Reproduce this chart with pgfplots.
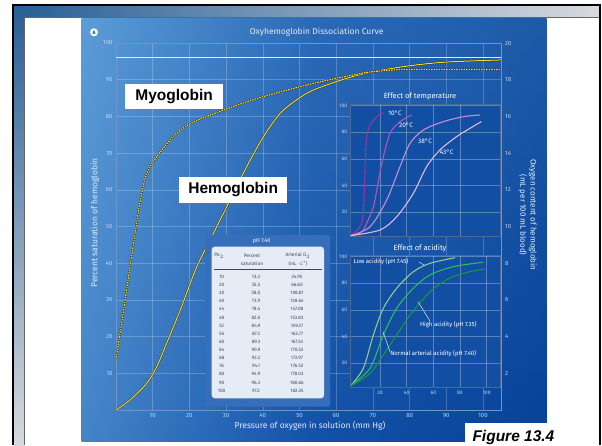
\documentclass[border=0pt]{standalone}
\usepackage{pgfplots}
\pgfplotsset{compat=1.18}
\usepackage{fontspec}
\setmainfont{Fira Sans}
\newfontfamily\labfont{Liberation Sans}
\definecolor{panelL}{RGB}{85,150,212}
\definecolor{panelM}{RGB}{22,85,170}
\definecolor{panelR}{RGB}{5,65,150}
\definecolor{tickc}{RGB}{195,212,235}
\definecolor{framec}{RGB}{110,150,205}
\definecolor{yel}{RGB}{242,222,40}
\definecolor{insetbg}{RGB}{18,78,162}
\definecolor{tA}{RGB}{150,55,165}
\definecolor{tB}{RGB}{180,85,185}
\definecolor{tC}{RGB}{205,140,215}
\definecolor{tD}{RGB}{225,185,225}
\definecolor{lowac}{RGB}{140,205,140}
\definecolor{normac}{RGB}{40,190,90}
\definecolor{highac}{RGB}{25,150,65}
\definecolor{tabbg}{RGB}{230,236,245}
\definecolor{tabout}{RGB}{55,110,185}
\definecolor{tabtxt}{RGB}{60,70,90}
\definecolor{stripb}{RGB}{40,95,150}
\definecolor{stripg}{RGB}{215,218,222}
\newcommand\tk{\fontsize{6}{6}\selectfont}
\newcommand\tks{\fontsize{5}{5}\selectfont}
\begin{document}
\begin{tikzpicture}
\useasboundingbox (0,0) rectangle (602pt,445pt);
\fill[white] (0,0) rectangle (602pt,445pt);
% outer frame
\shade[left color=stripb, right color=stripg] (14pt,428pt) rectangle (599pt,439pt);
\shade[top color=stripb, bottom color=stripg] (14pt,0pt) rectangle (24pt,439pt);
\draw[black, line width=2pt] (13pt,0pt) -- (13pt,440pt) -- (600pt,440pt) -- (600pt,0pt);
\draw[black!60, line width=0.8pt] (24pt,0pt) -- (24pt,428pt) -- (599pt,428pt);
% blue panel
\shade[left color=panelL, right color=panelR, middle color=panelM] (81.7pt,4pt) rectangle (546.7pt,426.7pt);
\shade[top color={rgb,255:red,120;green,180;blue,230}, bottom color={rgb,255:red,10;green,70;blue,160}, opacity=0.22] (81.7pt,4pt) rectangle (546.7pt,426.7pt);
% main axis
\begin{axis}[
  at={(116pt,35pt)}, anchor=south west,
  width=385.7pt, height=367pt, scale only axis,
  xmin=0, xmax=105.1, ymin=0, ymax=100,
  xtick={10,20,...,100}, ytick={10,20,...,100},
  grid=major, grid style={draw=white, opacity=0.22, line width=0.5pt},
  axis line style={draw=framec, line width=0.7pt},
  major tick length=0pt,
  tick label style={font=\tk, text=tickc},
  /pgf/number format/assume math mode=true,
]
\addplot[draw={rgb,255:red,228;green,235;blue,245}, line width=1.4pt] coordinates {(0,96) (105.1,96)};
% hemoglobin
\addplot[black!85, line width=1.7pt, smooth, tension=0.5] coordinates {
(0,0) (3.8,2.7) (8.4,7.3) (11.1,11.8) (13.8,18.2) (17.5,27.2) (22,39) (26.5,48) (31.1,57.2) (35.6,66.3) (40.2,74.5) (44.7,80.8) (49.2,84.5) (53.8,87.2) (62.9,90.4) (70.2,92.2) (80,93.8) (90,94.8) (105,95.4)};
\addplot[yel, line width=1.0pt, smooth, tension=0.5] coordinates {
(0,0) (3.8,2.7) (8.4,7.3) (11.1,11.8) (13.8,18.2) (17.5,27.2) (22,39) (26.5,48) (31.1,57.2) (35.6,66.3) (40.2,74.5) (44.7,80.8) (49.2,84.5) (53.8,87.2) (62.9,90.4) (70.2,92.2) (80,93.8) (90,94.8) (105,95.4)};
% myoglobin
\addplot[black!85, line width=1.7pt, smooth, tension=0.5] coordinates {
(0,13.6) (1.1,20.9) (2.5,30) (3.8,39) (5.2,48) (6.6,57) (8.4,64.5) (11.1,69) (15.6,74.5) (20.2,78) (29.2,81.7) (40.2,85.4) (53.8,89) (67.2,91.8) (75,92.6) (80,92.8) (105,92.8)};
\addplot[yel, line width=1.2pt, dash pattern=on 1.6pt off 0.9pt, smooth, tension=0.5] coordinates {
(0,13.6) (1.1,20.9) (2.5,30) (3.8,39) (5.2,48) (6.6,57) (8.4,64.5) (11.1,69) (15.6,74.5) (20.2,78) (29.2,81.7) (40.2,85.4) (53.8,89) (67.2,91.8) (75,92.6) (80,92.8) (105,92.8)};
\end{axis}
% right axis
\begin{axis}[
  at={(116pt,35pt)}, anchor=south west,
  width=385.7pt, height=367pt, scale only axis,
  xmin=0, xmax=105.1, ymin=0, ymax=20,
  axis x line=none, axis y line*=right,
  ytick={2,4,...,20},
  axis line style={draw=framec, line width=0.7pt},
  major tick length=0pt,
  tick label style={font=\tk, text=tickc},
  /pgf/number format/assume math mode=true,
]
\addplot[draw=none] coordinates {(0,0)};
\end{axis}
% temperature inset
\begin{axis}[
  at={(350.7pt,208.7pt)}, anchor=south west,
  width=149.3pt, height=132.4pt, scale only axis,
  xmin=-2, xmax=110, ymin=2, ymax=101.3,
  axis background/.style={fill=insetbg},
  xtick={20,40,60,80}, ytick={20,40,60,80,100}, xticklabels={},
  grid=major, grid style={draw=white, opacity=0.3, line width=0.5pt},
  axis line style={draw=framec!70!black, line width=0.6pt},
  major tick length=0pt,
  tick label style={font=\tks, text=tickc},
  /pgf/number format/assume math mode=true,
]
\addplot[tA, line width=1.1pt, smooth, tension=0.5] coordinates {(-2,2.5) (6.3,11.8) (8.3,36.8) (9,61.7) (10,76.7) (12.5,85.5) (17.6,91.7) (22.5,94.7)};
\addplot[tB, line width=1.1pt, smooth, tension=0.5] coordinates {(-2,2.5) (6,5) (10,11.8) (15,24) (17.6,36.8) (20,50) (22.5,61.7) (27.5,79.3) (35,88) (43.8,93)};
\addplot[tC, line width=1.1pt, smooth, tension=0.5] coordinates {(-2,2.5) (12.5,9.2) (25,29.2) (35,54.3) (42.5,71.7) (52.5,81.7) (67.5,88) (82.5,91.7) (95,93)};
\addplot[tD, line width=1.1pt, smooth, tension=0.5] coordinates {(-2,2.5) (20,6.75) (32.5,16.7) (45,34.2) (55,54.3) (65,66.8) (77.5,76.8) (87.5,83) (96,88)};
\end{axis}
% acidity inset
\begin{axis}[
  at={(350.7pt,57.7pt)}, anchor=south west,
  width=149.3pt, height=132.4pt, scale only axis,
  xmin=-2, xmax=110, ymin=2, ymax=101.3,
  axis background/.style={fill=insetbg},
  xtick={20,40,60,80,100}, ytick={20,40,60,80,100},
  grid=major, grid style={draw=white, opacity=0.3, line width=0.5pt},
  axis line style={draw=framec!70!black, line width=0.6pt},
  major tick length=0pt,
  tick label style={font=\tks, text=tickc},
  /pgf/number format/assume math mode=true,
]
\addplot[lowac, line width=1.1pt, smooth, tension=0.5] coordinates {(-2,3.2) (7.5,16.3) (15,41.3) (22.5,61.3) (32.5,76.3) (45,88.7) (57.5,95) (76.3,99.2)};
\addplot[normac, line width=1.1pt, smooth, tension=0.5] coordinates {(-2,3.2) (12.5,16.3) (22.5,41.3) (32.5,61.3) (45,76.3) (57.5,86.3) (75,92.5) (97.5,95.8)};
\addplot[highac, line width=1.1pt, smooth, tension=0.5] coordinates {(-2,3.2) (12.5,12.5) (27.5,33.8) (42.5,56) (57.5,73.7) (72.5,84) (87.5,88.7) (98.75,90.7)};
\end{axis}
% inset texts
\begin{scope}[every node/.style={text=white, inner sep=0pt}]
\node[font=\fontsize{7.5}{8}\selectfont] at (420pt,349pt) {Effect of temperature};
\node[font=\fontsize{7.5}{8}\selectfont] at (420pt,196.7pt) {Effect of acidity};
\node[font=\fontsize{6.5}{7}\selectfont] at (395pt,331.7pt) {10°C};
\node[font=\fontsize{6.5}{7}\selectfont] at (406pt,319.3pt) {20°C};
\node[font=\fontsize{6.5}{7}\selectfont] at (425pt,304pt) {38°C};
\node[font=\fontsize{6.5}{7}\selectfont] at (446.7pt,292.3pt) {43°C};
\node[font=\fontsize{6}{7}\selectfont, anchor=west] at (353.5pt,183.3pt) {Low acidity (pH 7.45)};
\draw[white, line width=0.4pt] (419pt,183pt) -- (424pt,180pt);
\node[font=\fontsize{6}{7}\selectfont] at (448.3pt,120pt) {High acidity (pH 7.35)};
\draw[white, line width=0.4pt] (418pt,143.3pt) -- (430pt,124pt);
\node[font=\fontsize{6}{7}\selectfont] at (433.3pt,91pt) {Normal arterial acidity (pH 7.40)};
\draw[white, line width=0.4pt] (383pt,113.3pt) -- (390pt,93.3pt);
\end{scope}
% main labels
\begin{scope}[every node/.style={text={rgb,255:red,225;green,235;blue,248}, inner sep=0pt}]
\node[font=\fontsize{8.5}{9}\selectfont] at (316.7pt,413.3pt) {Oxyhemoglobin Dissociation Curve};
\node[font=\fontsize{8.5}{9}\selectfont] at (310pt,19.3pt) {Pressure of oxygen in solution (mm Hg)};
\node[font=\fontsize{8.5}{9}\selectfont, rotate=90] at (95pt,222pt) {Percent saturation of hemoglobin};
\node[font=\fontsize{8}{9}\selectfont, rotate=-90] at (533pt,230pt) {Oxygen content of hemoglobin};
\node[font=\fontsize{8}{9}\selectfont, rotate=-90] at (523pt,230pt) {(mL per 100 mL blood)};
\end{scope}
\fill[white] (94pt,412.7pt) circle (4pt);
\node[font=\fontsize{5}{5}\selectfont\bfseries, text=panelR, inner sep=0pt] at (94pt,412.5pt) {A};
% table
\fill[tabout, rounded corners=2pt] (205pt,38.3pt) rectangle (330pt,210pt);
\fill[tabbg, rounded corners=3pt] (211.7pt,46.7pt) rectangle (324pt,198.3pt);
\node[text=white, font=\fontsize{5.5}{6}\selectfont, inner sep=0pt] at (261.7pt,204pt) {pH 7.40};
\begin{scope}[every node/.style={text=tabtxt, inner sep=0pt, font=\fontsize{4.8}{5.5}\selectfont}]
\node at (219pt,189pt) {Po$_2$};
\node at (252pt,189.5pt) {Percent};
\node at (252pt,181.5pt) {saturation};
\node at (298pt,189.5pt) {Arterial O$_2$};
\node at (298pt,181.3pt) {(mL\,$\cdot$\,L\textsuperscript{-1})};
\draw[tabtxt, line width=0.4pt] (214pt,175.7pt) -- (322pt,175.7pt);
\foreach \a/\b/\c [count=\i from 0] in {10/13.3/24.95, 20/35.5/66.60, 30/58.0/108.81, 40/73.9/138.64, 44/78.4/147.08, 48/82.0/153.83, 52/84.9/159.27, 56/87.3/163.77, 60/89.3/167.53, 64/90.9/170.53, 68/92.2/172.97, 76/94.1/176.53, 80/94.9/178.03, 90/96.3/180.66, 100/97.2/182.35} {
  \node at (221.7pt,{168.3pt-\i*8.14pt}) {\a};
  \node at (256pt,{168.3pt-\i*8.14pt}) {\b};
  \node at (297pt,{168.3pt-\i*8.14pt}) {\c};
}
\end{scope}
% curve labels
\fill[white] (125pt,335.7pt) rectangle (223.3pt,361pt);
\node[font=\labfont\fontsize{15.5}{16}\selectfont\bfseries, inner sep=0pt] at (174.2pt,348.3pt) {Myoglobin};
\fill[white] (179pt,242.3pt) rectangle (287.3pt,267.7pt);
\node[font=\labfont\fontsize{15.5}{16}\selectfont\bfseries, inner sep=0pt] at (233.2pt,255pt) {Hemoglobin};
% figure label
\fill[white] (465pt,0pt) rectangle (597pt,21.7pt);
\node[font=\labfont\fontsize{15.5}{16}\selectfont\bfseries\itshape, anchor=base west, inner sep=0pt] at (472.3pt,3.2pt) {Figure 13.4};
\end{tikzpicture}
\end{document}
